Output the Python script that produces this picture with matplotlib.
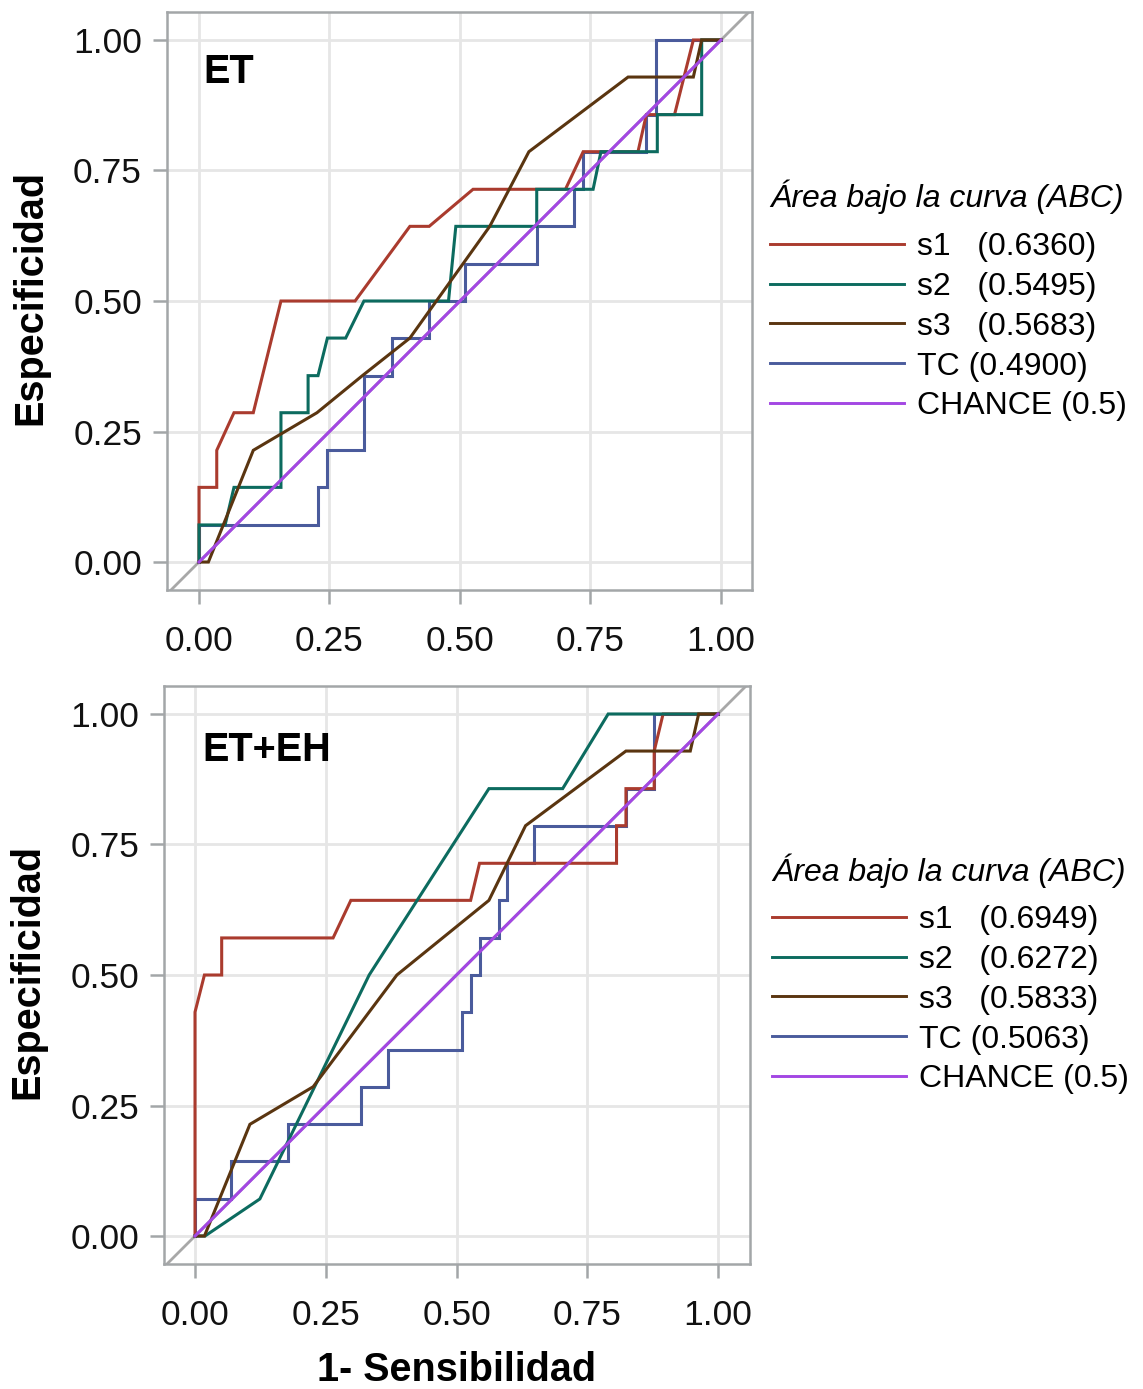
import matplotlib
matplotlib.use("Agg")
import matplotlib.pyplot as plt
from matplotlib.font_manager import FontProperties

plt.rcParams['font.family'] = ['Liberation Sans', 'DejaVu Sans']

# ---------------- data: panel ET ----------------
et_s1_x = [0, 0, 0.034, 0.034, 0.067, 0.104, 0.157, 0.299, 0.404, 0.441, 0.525, 0.702, 0.736, 0.841, 0.857, 0.911, 0.947, 1.0]
et_s1_y = [0, 0.143, 0.143, 0.214, 0.286, 0.286, 0.5, 0.5, 0.643, 0.643, 0.714, 0.714, 0.786, 0.786, 0.857, 0.857, 1.0, 1.0]

et_s2_x = [0, 0, 0.05, 0.067, 0.157, 0.157, 0.209, 0.209, 0.228, 0.246, 0.281, 0.316, 0.478, 0.492, 0.647, 0.647, 0.755, 0.77, 0.878, 0.878, 0.963, 0.963, 1.0]
et_s2_y = [0, 0.071, 0.071, 0.143, 0.143, 0.286, 0.286, 0.357, 0.357, 0.429, 0.429, 0.5, 0.5, 0.643, 0.643, 0.714, 0.714, 0.786, 0.786, 0.857, 0.857, 1.0, 1.0]

et_s3_x = [0, 0.018, 0.104, 0.226, 0.313, 0.404, 0.557, 0.632, 0.822, 0.947, 0.963, 1.0]
et_s3_y = [0, 0, 0.214, 0.286, 0.357, 0.429, 0.643, 0.786, 0.929, 0.929, 1.0, 1.0]

et_tc_x = [0, 0, 0.228, 0.228, 0.246, 0.246, 0.317, 0.317, 0.369, 0.369, 0.441, 0.441, 0.51, 0.51, 0.648, 0.648,
           0.719, 0.719, 0.736, 0.736, 0.857, 0.857, 0.876, 0.876, 1.0]
et_tc_y = [0, 0.071, 0.071, 0.143, 0.143, 0.214, 0.214, 0.357, 0.357, 0.429, 0.429, 0.5, 0.5, 0.571, 0.571, 0.643,
           0.643, 0.714, 0.714, 0.786, 0.786, 0.857, 0.857, 1.0, 1.0]

# ---------------- data: panel ET+EH ----------------
eh_s1_x = [0, 0, 0.018, 0.051, 0.051, 0.264, 0.298, 0.527, 0.544, 0.806, 0.806, 0.824, 0.824, 0.878, 0.878, 0.895, 1.0]
eh_s1_y = [0, 0.429, 0.5, 0.5, 0.571, 0.571, 0.643, 0.643, 0.714, 0.714, 0.786, 0.786, 0.857, 0.857, 0.929, 1.0, 1.0]

eh_s2_x = [0, 0.019, 0.124, 0.333, 0.562, 0.703, 0.79, 1.0]
eh_s2_y = [0, 0, 0.071, 0.5, 0.857, 0.857, 1.0, 1.0]

eh_s3_x = [0, 0.018, 0.105, 0.226, 0.386, 0.562, 0.632, 0.824, 0.947, 0.963, 1.0]
eh_s3_y = [0, 0, 0.214, 0.286, 0.5, 0.643, 0.786, 0.929, 0.929, 1.0, 1.0]

eh_tc_x = [0, 0, 0.069, 0.069, 0.177, 0.177, 0.317, 0.317, 0.369, 0.369, 0.51, 0.51, 0.527, 0.527, 0.544, 0.544,
           0.581, 0.581, 0.597, 0.597, 0.649, 0.649, 0.824, 0.824, 0.878, 0.878, 1.0]
eh_tc_y = [0, 0.071, 0.071, 0.143, 0.143, 0.214, 0.214, 0.286, 0.286, 0.357, 0.357, 0.429, 0.429, 0.5, 0.5, 0.571,
           0.571, 0.643, 0.643, 0.714, 0.714, 0.786, 0.786, 0.857, 0.857, 1.0, 1.0]

chance_x = [0, 1]
chance_y = [0, 1]

panel_titles = ["ET", "ET+EH"]
et_auc = ["0.6360", "0.5495", "0.5683", "0.4900", "0.5"]
eh_auc = ["0.6949", "0.6272", "0.5833", "0.5063", "0.5"]
series_names = ["s1", "s2", "s3", "TC", "CHANCE"]
ticks = [0.0, 0.25, 0.5, 0.75, 1.0]
tick_labels = ["0.00", "0.25", "0.50", "0.75", "1.00"]

colors = {"s1": "#AA3B2E", "s2": "#0C6B5F", "s3": "#5A3510", "TC": "#4A5B9C", "CHANCE": "#A347E3"}
zorders = {"s1": 4, "s2": 5, "s3": 6, "TC": 3, "CHANCE": 7}
sep = {"s1": "   ", "s2": "   ", "s3": "   ", "TC": " ", "CHANCE": " "}

W, H = 1143, 1389
fig = plt.figure(figsize=(W / 100, H / 100), dpi=100)

def px_axes(x0, y0, x1, y1):
    return fig.add_axes([x0 / W, 1 - y1 / H, (x1 - x0) / W, (y1 - y0) / H])

ax1 = px_axes(167, 12, 752, 590)
ax2 = px_axes(164, 686, 750, 1264)

panels = [
    (ax1, {"s1": (et_s1_x, et_s1_y), "s2": (et_s2_x, et_s2_y), "s3": (et_s3_x, et_s3_y),
           "TC": (et_tc_x, et_tc_y), "CHANCE": (chance_x, chance_y)}, et_auc,
     (-0.0613, 1.0594), (-0.0536, 1.0536), (0.008, 0.918), 180, 770),
    (ax2, {"s1": (eh_s1_x, eh_s1_y), "s2": (eh_s2_x, eh_s2_y), "s3": (eh_s3_x, eh_s3_y),
           "TC": (eh_tc_x, eh_tc_y), "CHANCE": (chance_x, chance_y)}, eh_auc,
     (-0.0593, 1.0612), (-0.0536, 1.0536), (0.0147, 0.91), 853, 772),
]

spine_col = "#A3A6A8"
grid_col = "#E6E6E6"
title_fp = FontProperties(family='Liberation Sans', style='italic', size=23)

for i, (ax, data, aucs, xl, yl, tpos, leg_top, leg_left) in enumerate(panels):
    ax.set_xlim(*xl)
    ax.set_ylim(*yl)
    ax.axline((0, 0), (1, 1), color="#A8A8A8", lw=2.0, zorder=2)
    handles = []
    for name, auc in zip(series_names, aucs):
        xs, ys = data[name]
        h, = ax.plot(xs, ys, color=colors[name], lw=2.2, zorder=zorders[name],
                     label=f"{name}{sep[name]}({auc})", solid_joinstyle='miter')
        handles.append(h)
    ax.set_xticks(ticks)
    ax.set_xticklabels(tick_labels)
    ax.set_yticks(ticks)
    ax.set_yticklabels(tick_labels)
    ax.grid(True, color=grid_col, lw=2.0, zorder=0)
    ax.set_axisbelow(True)
    for s in ax.spines.values():
        s.set_color(spine_col)
        s.set_linewidth(1.8)
    ax.tick_params(axis='both', length=10, width=1.8, color=spine_col, labelsize=25.5,
                   labelcolor="#111111")
    ax.tick_params(axis='y', pad=8)
    ax.tick_params(axis='x', pad=15)
    ax.text(tpos[0], tpos[1], panel_titles[i], fontsize=28.5, fontweight='bold',
            ha='left', va='baseline', zorder=10)
    ax.set_ylabel("Especificidad", fontsize=28.5, fontweight='bold')
    ax.yaxis.set_label_coords(-0.234, 0.507)
    ax.yaxis.label.set_va('center')
    leg = ax.legend(handles=handles, loc='upper left',
                    bbox_to_anchor=(leg_left / W, 1 - leg_top / H), bbox_transform=fig.transFigure,
                    frameon=False, borderpad=0, borderaxespad=0, fontsize=23,
                    title="Área bajo la curva (ABC)", title_fontproperties=title_fp,
                    alignment='left', handlelength=4.2, handletextpad=0.4, labelspacing=0.31)
    leg._legend_box.sep = 12.5
    for lh in leg.get_lines():
        lh.set_linewidth(2.1)

ax2.set_xlabel("1- Sensibilidad", fontsize=28.5, fontweight='bold')
ax2.xaxis.set_label_coords(0.5, -0.184)
ax2.xaxis.label.set_va('center')

fig.savefig("out.png", dpi=100)
